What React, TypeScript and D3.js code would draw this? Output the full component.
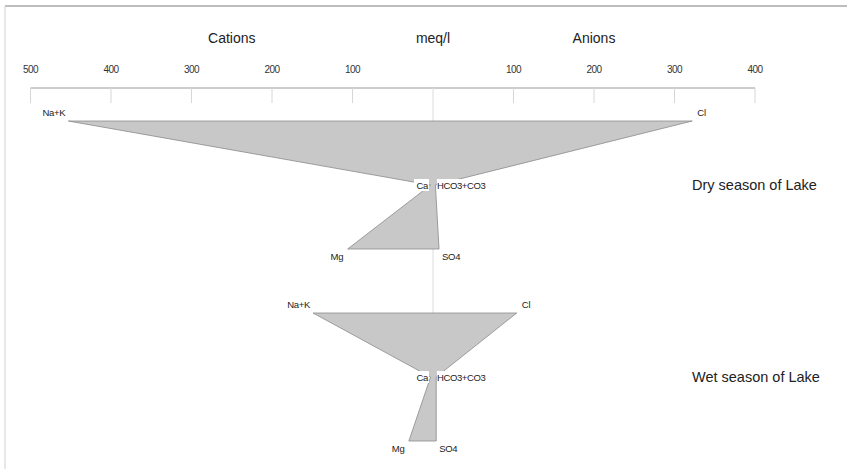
import React from "react";
import * as d3 from "d3";

const samples = ["Dry season of Lake", "Wet season of Lake"];
const cations = ["Na+K", "Ca", "Mg"];
const anions = ["Cl", "HCO3+CO3", "SO4"];
const cationValues = [
  [453, 3, 106],
  [149, 3, 30],
];
const anionValues = [
  [322, 3, 7.5],
  [104, 4, 4],
];
const leftTicks = [500, 400, 300, 200, 100];
const rightTicks = [100, 200, 300, 400];

const W = 847;
const H = 469;
const FONT = "Liberation Sans, Arial, sans-serif";

export default function App() {
  const x = d3.scaleLinear().domain([-500, 400]).range([30.5, 755]);
  const sampleY = d3.scaleLinear().domain([0, 1]).range([121, 313]);
  const rowY = d3.scaleLinear().domain([0, 1]).range([0, 64]);
  const x0 = x(0);
  const axisY = 88;
  const line = d3.line<[number, number]>().x((d) => d[0]).y((d) => d[1]);

  return (
    <svg width={W} height={H} style={{ position: "absolute", left: 0, top: 0, background: "#fff" }} fontFamily={FONT}>
      {/* frame */}
      <line x1={5} y1={6} x2={W} y2={6} stroke="#a8a8a8" strokeWidth={1.5} />
      <line x1={5} y1={6} x2={5} y2={H} stroke="#d0d0d0" strokeWidth={1} />

      {/* titles */}
      <text x={x(-250)} y={43} fontSize={14} textAnchor="middle" fill="#222">Cations</text>
      <text x={x0} y={43} fontSize={14} textAnchor="middle" fill="#222">meq/l</text>
      <text x={x(200)} y={43} fontSize={14} textAnchor="middle" fill="#222">Anions</text>

      {/* axis */}
      <line x1={x(-500)} y1={axisY} x2={x(400)} y2={axisY} stroke="#9a9a9a" strokeWidth={1} />
      {leftTicks.map((t) => (
        <g key={"l" + t}>
          <line x1={x(-t)} y1={axisY} x2={x(-t)} y2={axisY + 15} stroke="#d6d6d6" />
          <text x={x(-t)} y={axisY - 15} fontSize={10} textAnchor="middle" fill="#333" letterSpacing={-0.5}>{t}</text>
        </g>
      ))}
      {rightTicks.map((t) => (
        <g key={"r" + t}>
          <line x1={x(t)} y1={axisY} x2={x(t)} y2={axisY + 15} stroke="#d6d6d6" />
          <text x={x(t)} y={axisY - 15} fontSize={10} textAnchor="middle" fill="#333" letterSpacing={-0.5}>{t}</text>
        </g>
      ))}

      {/* central line */}
      <line x1={x0} y1={axisY} x2={x0} y2={sampleY(1) + rowY(2)} stroke="#dcdcdc" strokeWidth={1} />

      {samples.map((s, si) => {
        const cy = (r: number) => sampleY(si) + rowY(r);
        const pts: [number, number][] = [
          ...cationValues[si].map((v, r) => [x(-v), cy(r)] as [number, number]),
          ...anionValues[si].map((v, r) => [x(v), cy(r)] as [number, number]).reverse(),
        ];
        const path = line(pts) + "Z";
        return (
          <g key={s}>
            <path d={path} fill="#c8c8c8" stroke="#8a8a8a" strokeWidth={0.8} strokeLinejoin="round" />
            {/* row 0 labels */}
            <text x={x(-cationValues[si][0]) - 3} y={cy(0) - 5} fontSize={9.5} textAnchor="end" fill="#222" letterSpacing={-0.3}>{cations[0]}</text>
            <text x={x(anionValues[si][0]) + 5} y={cy(0) - 5} fontSize={9.5} textAnchor="start" fill="#222">{anions[0]}</text>
            {/* row 1 labels at center */}
            <rect x={x0 - 19} y={cy(1) - 6} width={15} height={12} fill="#fff" />
            <rect x={x0 + 4} y={cy(1) - 6} width={54} height={12} fill="#fff" />
            <text x={x0 - 5} y={cy(1) + 3.5} fontSize={9.5} textAnchor="end" fill="#222" letterSpacing={-0.3}>{cations[1]}</text>
            <text x={x0 + 4} y={cy(1) + 3.5} fontSize={9.5} textAnchor="start" fill="#222" letterSpacing={-0.4}>{anions[1]}</text>
            {/* row 2 labels */}
            <text x={x(-cationValues[si][2]) - 4} y={cy(2) + 11} fontSize={9.5} textAnchor="end" fill="#222">{cations[2]}</text>
            <text x={x(anionValues[si][2]) + 3} y={cy(2) + 11} fontSize={9.5} textAnchor="start" fill="#222" letterSpacing={-0.3}>{anions[2]}</text>
            {/* sample label */}
            <text x={692} y={cy(1) + 5} fontSize={14.5} textAnchor="start" fill="#222">{s}</text>
          </g>
        );
      })}
    </svg>
  );
}
